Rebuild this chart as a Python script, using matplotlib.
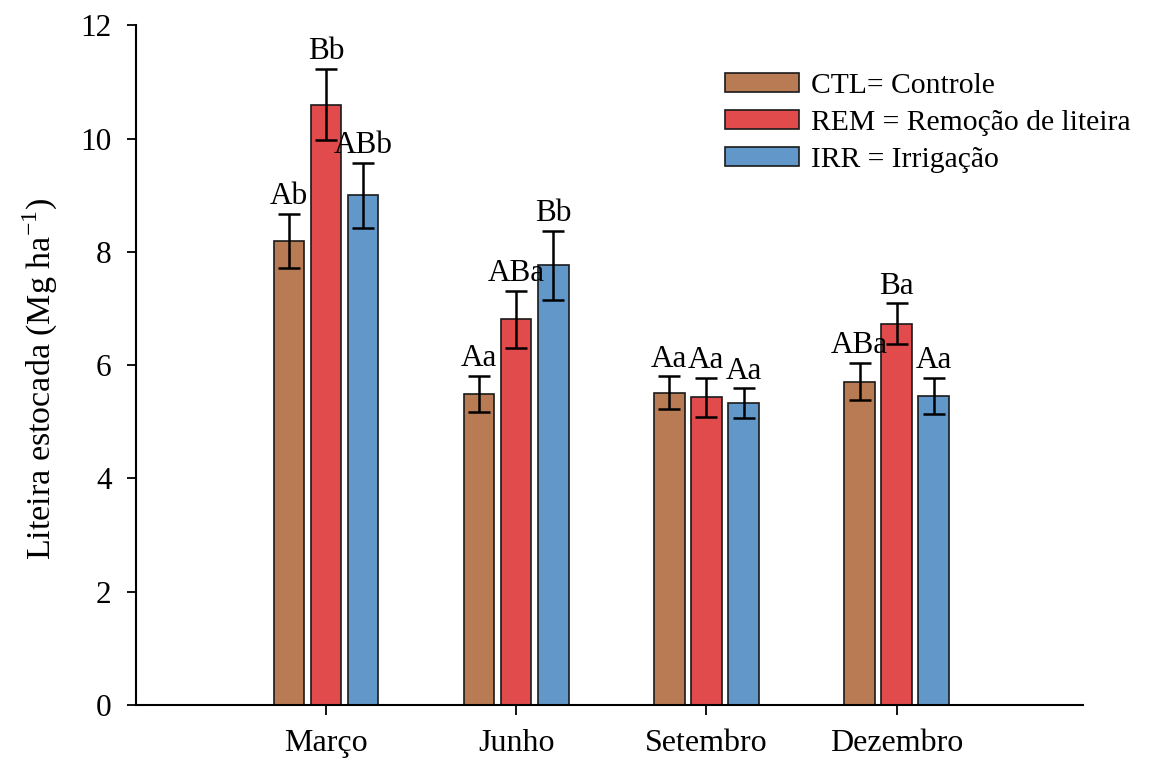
import matplotlib
matplotlib.use("Agg")
import matplotlib.pyplot as plt
import numpy as np

plt.rcParams['font.family'] = ['Liberation Serif', 'DejaVu Serif']
plt.rcParams['mathtext.fontset'] = 'custom'
plt.rcParams['mathtext.rm'] = 'Liberation Serif'

categories = ["Março", "Junho", "Setembro", "Dezembro"]
series_names = ["CTL= Controle", "REM = Remoção de liteira", "IRR = Irrigação"]
ctl = [8.19, 5.49, 5.51, 5.71]
rem = [10.60, 6.81, 5.43, 6.73]
irr = [9.00, 7.76, 5.33, 5.46]
ctl_err = [0.48, 0.32, 0.29, 0.33]
rem_err = [0.63, 0.50, 0.34, 0.36]
irr_err = [0.57, 0.61, 0.26, 0.32]
ctl_lbl = ["Ab", "Aa", "Aa", "ABa"]
rem_lbl = ["Bb", "ABa", "Aa", "Ba"]
irr_lbl = ["ABb", "Bb", "Aa", "Aa"]
yticks = [0, 2, 4, 6, 8, 10, 12]

colors = ["#b97b53", "#e14b4b", "#6198c9"]

fig = plt.figure(figsize=(11.70, 7.62), dpi=100)
ax = fig.add_axes([0.1162, 0.0748, 0.8094, 0.892])

x = np.arange(len(categories))
offs = [-0.195, 0.0, 0.195]
width = 0.16
vals = [ctl, rem, irr]
errs = [ctl_err, rem_err, irr_err]
lbls = [ctl_lbl, rem_lbl, irr_lbl]

for i in range(3):
    ax.bar(x + offs[i], vals[i], width, color=colors[i], edgecolor='#1a1a1a',
           linewidth=1.2, label=series_names[i], zorder=2)
    ax.errorbar(x + offs[i], vals[i], yerr=errs[i], fmt='none', ecolor='black',
                elinewidth=1.8, capsize=8, capthick=1.8, zorder=3)
    for j in range(len(categories)):
        ax.annotate(lbls[i][j], (x[j] + offs[i], vals[i][j] + errs[i][j]),
                    xytext=(0, 2), textcoords='offset points',
                    ha='center', va='bottom', fontsize=22.5)

ax.set_xlim(-1.0, 3.98)
ax.set_ylim(0, 12)
ax.set_yticks(yticks)
ax.set_xticks(x)
ax.set_xticklabels(categories)
ax.spines['top'].set_visible(False)
ax.spines['right'].set_visible(False)
for s in ['left', 'bottom']:
    ax.spines[s].set_linewidth(1.5)
ax.tick_params(axis='y', direction='out', length=6.5, width=1.3, labelsize=22.5, pad=11)
ax.tick_params(axis='x', direction='out', length=7, width=1.3, labelsize=23, pad=10)
ax.set_ylabel("Liteira estocada (Mg ha$^{-1}$)", fontsize=24.5)
ax.yaxis.set_label_coords(-0.08, 0.48)

leg = ax.legend(loc='upper right', bbox_to_anchor=(1.078, 0.969), frameon=False,
                fontsize=21.3, handlelength=2.5, handleheight=0.6,
                labelspacing=0.37, handletextpad=0.4)

fig.savefig("out.png", dpi=100)
